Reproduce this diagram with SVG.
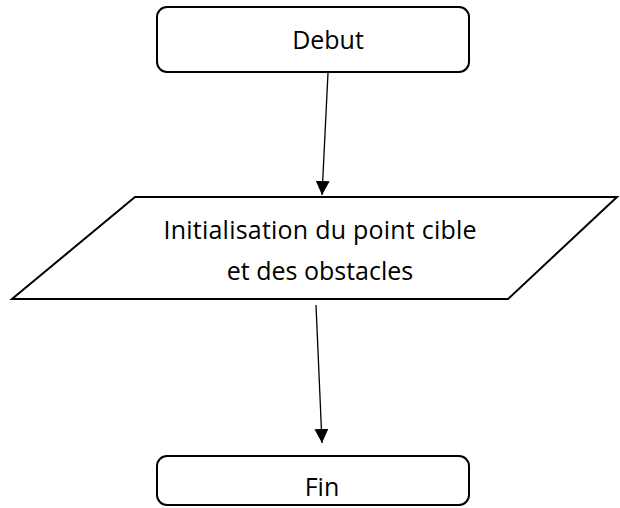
<svg xmlns="http://www.w3.org/2000/svg" width="620" height="508" viewBox="0 0 620 508">
<style>
.shape{fill:#fff;stroke:#000;stroke-width:2}
.lbl{font-family:"Open Sans","Liberation Sans",sans-serif;font-size:25px;fill:#000;text-anchor:middle}
.conn{stroke:#000;stroke-width:1.3;fill:none;marker-end:url(#ah)}
</style>
<defs>
<marker id="ah" viewBox="0 0 10 10" refX="10" refY="5" markerWidth="14" markerHeight="14" markerUnits="userSpaceOnUse" orient="auto">
<path d="M0,0 L10,5 L0,10 Z" fill="#000"/>
</marker>
</defs>
<rect width="620" height="508" fill="#fff"/>
<g id="debut">
<rect class="shape" x="157" y="7" width="312" height="65" rx="10"/>
<text class="lbl" x="328" y="49">Debut</text>
</g>
<g id="init">
<polygon class="shape" points="135,197 617,197 508,299 12,299"/>
<text class="lbl" x="320" y="239" textLength="313" lengthAdjust="spacing">Initialisation du point cible</text>
<text class="lbl" x="320" y="280">et des obstacles</text>
</g>
<g id="fin">
<rect class="shape" x="157" y="456" width="312" height="49" rx="10"/>
<text class="lbl" x="322" y="496">Fin</text>
</g>
<g id="connectors">
<line class="conn" x1="328" y1="73" x2="322" y2="195"/>
<line class="conn" x1="316" y1="305" x2="322" y2="443"/>
</g>
</svg>
